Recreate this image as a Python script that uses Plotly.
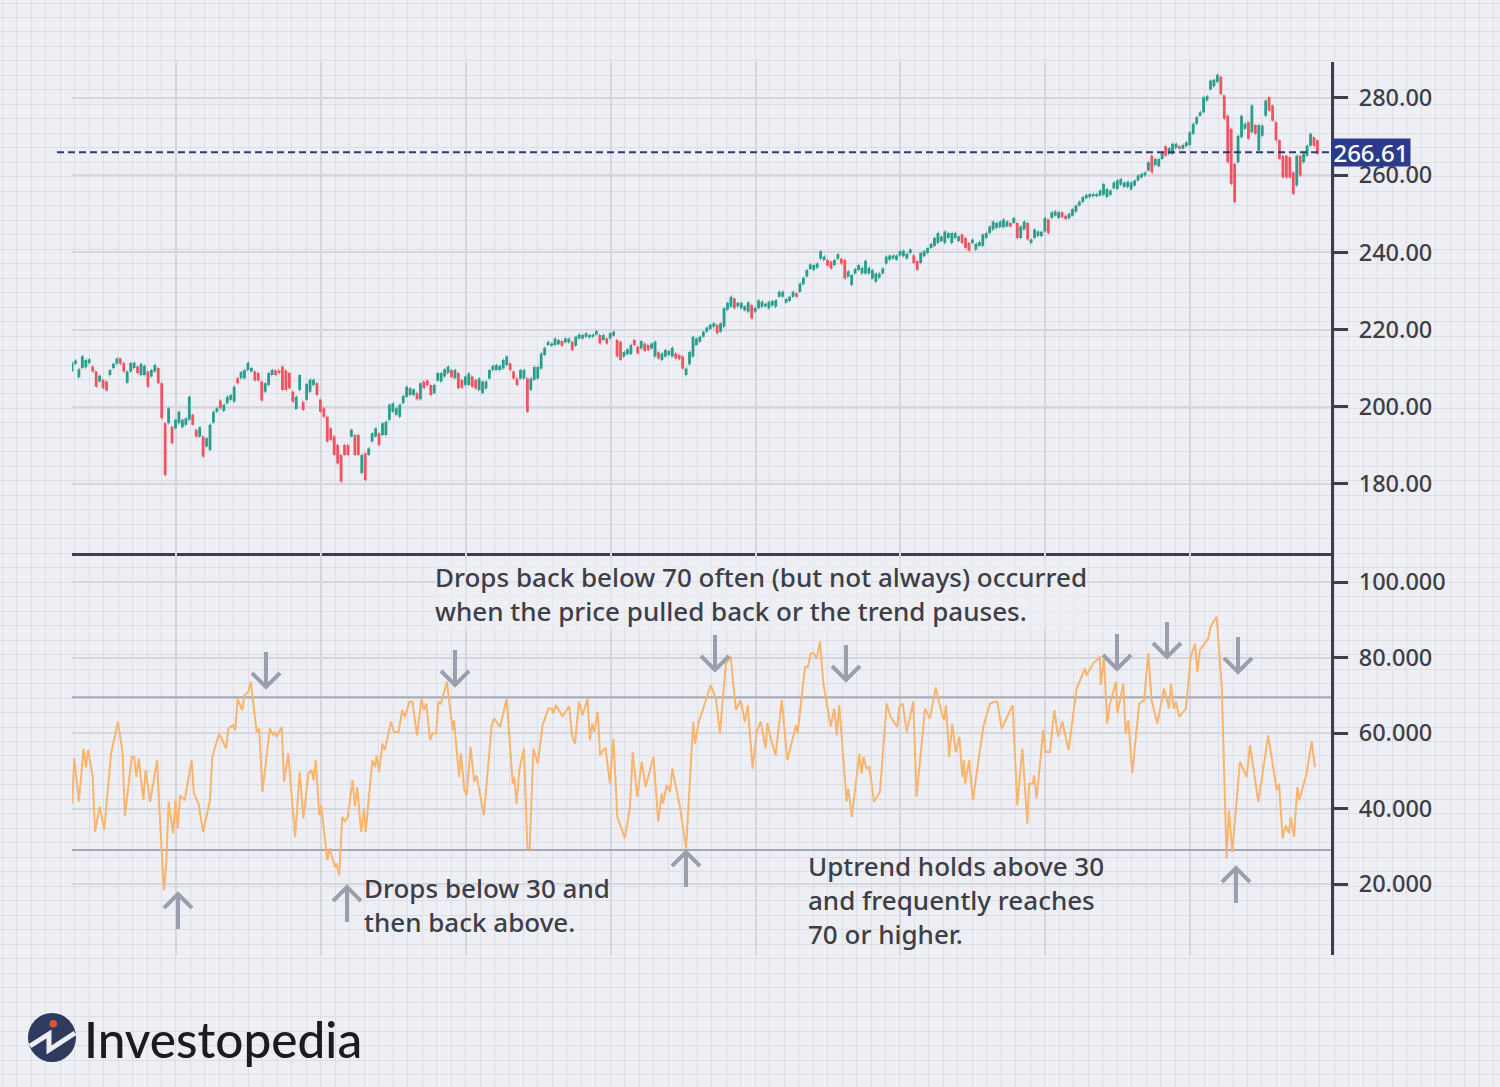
# S&P price bars with RSI panel underneath
import plotly.graph_objects as go

# Price bars
bar_high = [
    211.3,212,209.7,213.1,212.1,212.3,210.4,209.1,208,207,
    206.5,209.5,211.1,212.5,212.5,211.3,209.1,211.3,211.4,210.4,
    211.1,210.6,209.1,209.5,210.8,210,206.1,195.7,199.6,194.8,
    196.6,198.7,196.6,197,202.6,197.9,194,194.7,192.3,191.8,
    195.3,198.7,199.6,201.6,200.5,202.6,203,205.2,207.4,209,
    209.5,211.4,210,209.1,208.7,206.5,206.1,208.7,209.5,209.4,
    209.4,210.4,209.4,208.7,203.9,202.6,208.2,201.3,205.9,207,
    207,206.1,201.8,199.6,197.4,194.4,192.3,190.1,187.5,190.1,
    190.1,194,192.7,192.7,187.5,187.9,189.2,193.1,194.4,193.1,
    195.7,196.1,200.5,200.9,199.6,200.5,202.8,205.2,204.8,204.5,
    203.5,206.1,206.5,206.8,205.6,205.6,208.7,208.7,209.7,210.4,
    209.5,209.5,208.7,206.9,207.8,208.6,207.8,206.9,207.3,206.5,
    206.5,209.5,210.6,210.8,210.6,212.1,213,211.2,209.1,207.3,
    209.5,209.5,207.3,207.3,210.3,210.3,213.8,215.3,216.8,216.4,
    217.7,217.3,217,217.7,217.7,216.8,218.1,218.7,218.6,219,
    218.6,218.7,219.6,218.6,218.6,217.7,219,219.4,217.3,216.8,
    214.2,214.9,216,217.3,215.5,217,216.4,216,216.4,216.8,
    214.1,213.8,214.7,214.4,215.3,213.8,213.4,213,209.9,214.2,
    218.1,217.7,218.1,219.4,220.5,221.2,221.6,221.2,221.6,225.5,
    226.9,228.5,228,226.9,226.9,226,227,226.3,225.6,227.6,
    227.2,226.7,227.2,227.4,227.6,229.8,229.8,227.9,228.5,229.8,
    229.4,231.9,233.4,235.4,236.9,236.7,237.1,240.3,238.9,238,
    237.6,238,239.5,238.3,238,235.1,234.1,235.7,236.7,236,
    237.8,236,235.4,234.5,234.5,235.8,238.9,239.2,239.2,239.2,
    240.3,240.4,239.6,240.7,239.2,237.7,239.8,240.3,241.1,242.2,
    243.7,245,244.1,245.4,245,245,245,244.1,244.6,243.7,
    242.4,243.3,242.2,242.7,244.6,245,246.7,248,247.6,248,
    248.5,248,247.6,248.9,247.6,246.7,248,247.6,243.3,245.9,
    245.4,245.3,248.9,248.5,250.4,250.6,250.4,250.4,249.5,250,
    251.2,252.1,253.1,254.3,254.9,255.1,255.1,255.1,256,257.7,
    256.4,256,258.1,258.6,259,258.1,258.3,258.1,258.6,259.9,
    260.3,260.7,263.3,265,264.2,264.2,265.9,267.5,267,268.1,
    268.1,267.5,267.8,268.5,271.1,273.3,275,276.3,280.2,280.4,
    284.5,284.7,286,285.5,280.6,275.4,272,262.9,270.2,275.4,
    273.3,273.7,278,273,273,272.8,279.3,280.2,278,273.7,
    269,265,265,264.6,260.7,265,265,265.5,267.6,270.7,269.8,269,
]
bar_low = [
    209.1,211.1,207.6,210,210.2,211.3,209.1,205.2,206.5,204.8,
    204.2,208.2,210,211.1,211.1,209.1,206.2,209.1,210,208.7,
    208.2,208.2,205.2,207.8,209.1,206.1,197,182.3,195.7,190.5,
    194.4,195.7,194.7,195.3,196.6,195.3,192.3,192.3,187.1,189.7,
    188.8,195.9,198.7,199.6,198.9,200.9,201.8,201.3,206.1,207.4,
    207.4,209.5,209.1,206.8,206.8,201.6,203.9,205.6,208.2,208.2,
    208.7,204.3,204.3,204.8,201.3,199.4,204.3,199.2,201.8,203.9,
    205.6,203,198.7,197.4,191,191.4,187.5,185.3,180.6,187.5,
    187.5,192.3,187.5,187.5,182.8,181,187.5,191,192.3,190.1,
    192.7,192.7,196.6,198.7,197.9,197.4,200.9,202.6,203,203,
    201.9,201.9,204.8,205.6,203,203.5,206.8,206.5,207.8,208.7,
    207.6,207.4,204.8,204.9,205.6,205.6,205.2,204.7,204.3,203.5,
    204.7,207.3,209.5,209.5,209.5,209.9,210.8,209.5,207.3,205.6,
    207.3,207.3,198.7,204.3,207,207.3,209.9,213.4,216,215.8,
    216,216.2,215.8,216.7,216.7,214.7,215.8,217.7,217.7,218.1,
    217.9,218.1,218.7,216.4,217.3,216.4,217.7,218.4,213,212.1,
    213,213.6,213.6,216,213.8,215.1,214.4,214.7,215.1,213,
    212.5,212.1,213,213.4,213,212.5,212.3,209.9,208.2,211,
    213,216,216.8,218.1,219.4,220.1,220.7,219,219.4,220.7,
    225.1,225.9,225.5,226,225.5,225,224.6,222.9,224.6,225.5,
    225.9,226,225.5,226.2,225.9,228.5,228.5,227,227.4,228.5,
    228.5,229.8,231.7,233.7,235.7,235.4,236,238.3,238,236.5,
    235.8,236.7,238.3,237.1,233.2,233.7,231.5,234.5,235.4,234.5,
    234.5,234.5,233.2,232.4,233.4,234.5,237.1,238.1,238.4,238.1,
    239.2,239,238.4,239.8,237.2,235.5,237.2,239,239.8,241.1,
    241.6,242.4,242.9,242.4,243.7,242.4,243.7,242.9,242.4,241.1,
    240.4,242.4,240.7,241.6,241.6,243.7,245,245.9,246.3,246.5,
    246.5,246.7,246.7,247.6,243.7,243.7,245.9,243.3,242.4,243.7,
    244.2,244.2,245.4,245,248.9,249.5,248.9,249.1,248.6,248.8,
    249.5,250.5,252.1,253,254,254.3,254.5,254.5,254.7,254.9,
    254.3,254.9,256.6,256.4,257.5,256.9,256.9,256.3,257.3,258.6,
    259.4,259.9,261.2,260.7,262.6,262.3,264.2,265,265.5,265.5,
    267,266.8,266.8,267.5,267.8,270.7,273.3,275.4,276.3,279.3,
    282.2,283,284.1,281,274.6,263.3,257.7,253,263.3,269.8,
    272,269.4,271.1,270.7,266.4,270.2,275.4,276.7,274.1,269,
    264.2,259.4,259.4,259.4,255.1,257.3,259.9,263.3,265,267.6,267.6,265.5,
]
# Which bars are red
red_bars = [
    6,7,9,10,14,15,19,22,25,26,27,29,35,36,38,43,48,53,54,55,59,60,61,62,63,64,67,
    71,72,73,74,75,76,77,78,79,80,82,83,85,89,100,102,103,104,110,112,113,116,117,
    127,128,129,132,142,145,153,155,158,159,163,164,166,167,170,175,176,177,187,192,
    197,210,219,220,223,224,244,245,258,259,260,272,274,277,283,287,288,313,317,321,
    333,334,335,336,337,341,343,347,348,349,350,351,352,353,354,356,360,361,
]
last_price_label = "266.61"
last_price_level = 265.9  # where the dashed line sits on the scale in the picture

# RSI line, bar number and value
rsi_bar = [
    0,1,3,5,6,7,9,10,12,14,17,20,22,23,26,27,28,29,31,32,34,37,38,40,41,42,44,45,46,47,
    49,52,53,55,57,60,61,64,67,68,70,71,72,74,75,76.7,77.7,80.3,81.4,82.8,86,87.5,88.3,89,
    91.2,92.2,94,97,99,100.6,102.8,104.2,105,106,107.5,108.3,111,112,114.3,115,116.2,117.5,
    118.7,119.9,122,123,124,125.7,127,127.7,130.6,131.7,132.5,133.5,135,136,138.7,140,142,
    143.6,144.8,146.7,148,150,152,153,154,155.7,156.8,158.3,159.3,160.4,163,165.5,166.1,
    168.3,169.1,170.6,171.6,173.3,174.9,175.9,179.1,182.5,183.6,186.1,189,191.6,192.3,193.3,
    194.5,196.5,198,199,200.6,202.5,204.6,207.1,208.6,209.3,210.3,213.3,216.2,217.5,218.7,
    220.4,222,224.1,225.2,226.2,227.1,228.6,229.6,231,232,233.9,235.4,237.1,240.4,242.6,
    243.8,245.8,247.7,249.4,251.3,252.8,254.9,256.4,257,258.6,260,261,264.3,267,270.1,270.9,
    272.3,275.2,277.7,280,281.7,284.3,286.4,287.5,288.7,290.7,292.6,293.8,295.9,297.7,299.4,
    301.6,302.3,304.2,305.9,308.6,311,314.8,315.5,318.7,319.9,321.2,322.6,323.8,325.2,326.7,
    329.9,331.4,332.5,333.6,336.1,336.8,337.5,339.1,342.3,343.3,344.1,345.5,346.7,348.7,
    351.3,354.2,355.9,358.8,359.7,361.2,362.9,365.8,367.2,370.9,373,375.6,377.1,379.1,380,
    381.4,382.7,384.3,385.8,387.1,387.8,388.3,390.1,391.7,396.2,399.1,401.3,402.3,404.2,
    405.6,409,411,413.2,415.4,416.1,417.7,418.3,419.4,422.3,423.3,425.2,427.1,428.8,430.6,
    433.3,436.8,440.4,441.1,444,447,447.2,448.7,450.1,451.3,453.9,454.5,457.1,458.1,459.3,
    461,462.9,464,466.1,468,469.4,471.9,474.8,477,477.8,479.1,480,481.4,484.3,486.4,488.3,
    489.3,490.4,494,495,497.7,499.9,502,503,504.5,507.8,510.7,512.2,515.8,520.1,523.8,524.8,
    526.4,527.7,529.1,529.9,531.3,532.8,533.6,536.8,539,540.4,
]
rsi_value = [
    41.3,53.3,41.8,55.9,51,55.5,48.4,33.8,40.5,34.3,54.6,63,54.6,38,53.7,53.7,48.4,53.3,42.2,50.2,41.8,52.8,39.5,18.4,25.5,41.8,33.4,42.2,34.7,43.5,
    42.2,52.8,44,41.3,33.8,42.2,53.7,59.9,55.9,61.2,62.1,60.8,69.1,66.1,70,70.9,73.6,60.3,61.2,44.4,61.2,59.4,60.3,59,
    61.6,47.1,54.6,32.5,49.7,37.4,49.3,50.2,47.5,52.8,38.2,40.9,26.3,29.4,24.5,25.4,22.3,37.8,
    36.5,37.8,47.5,40.5,45.7,33.8,40,33.8,52.8,51,54.1,49.7,57.2,55.5,63,60.3,60.3,
    66.1,64.3,68.3,68.3,59.4,69.1,66.1,67.8,58.1,59.9,59.9,68.3,67.8,73.6,60.8,63.4,
    48.4,54.6,44.9,43.5,56.3,47.1,48.8,38.2,62.1,63.9,61.6,69.1,46.6,48.4,41.3,
    50.2,55.9,29.4,29.4,55.9,51.9,62.1,66.5,66.5,65.2,67.4,64.5,67.1,59,57.2,
    68.3,64.7,69.1,58.1,62.5,60.3,65.6,54.1,55.5,55.9,46.6,58.5,37.8,32.1,40.5,
    55,43.1,52.4,45.7,50.2,53.7,36.5,44,41.3,46.2,44.4,50.6,40.5,29.4,63,57.2,
    62.5,67.8,72.7,69.1,59.9,78.4,80.2,73.1,66.1,68.7,63,67.4,50.6,60.3,63,
    55.9,62.7,57.7,54.1,68.7,52.8,62.1,59.9,77.5,77.5,81.1,81.1,79.7,84.2,73.1,
    61.8,66.5,59.4,67.4,46.6,41.8,45.3,37.8,54.5,49.3,53.7,50.6,51,41.8,
    44.4,67.8,64.3,61.6,66.9,67.8,60.3,68.3,43.1,66.5,63.9,72.1,67.8,63.4,67.4,
    53.7,62.5,55,59,48.4,52.8,46.6,52.8,42.2,61.6,67.8,68.3,68.3,61.2,
    63,67.4,40.9,55.9,36,46.6,46.6,48.8,42.7,60.8,55,55,66.1,59,63,
    55.5,71.8,77.1,75.3,78.4,80.2,72.7,79.7,62.5,67.8,73.5,65.2,73.1,59.9,63.4,
    49.3,59.9,67.8,68.7,81.1,68.7,62.5,71.8,66.5,73.1,66.5,68.3,64.3,66.5,80.2,83.7,
    76.2,82,85,88.1,90.8,72.2,26.8,39.5,28.5,52.4,48.4,56.8,41.8,59.4,44.9,46.6,
    32.1,35.6,33.4,37.8,32.5,45.7,42.2,49.3,57.7,51,
]
rsi_levels = [69.5, 29]

# Axis labels
price_ticks = [180, 200, 220, 240, 260, 280]
rsi_ticks = [20, 40, 60, 80, 100]

# Notes on the RSI panel
note_text = [
    "Drops back below 70 often (but not always) occurred<br>when the price pulled back or the trend pauses.",
    "Drops below 30 and<br>then back above.",
    "Uptrend holds above 30<br>and frequently reaches<br>70 or higher.",
]
note_x = [434, 363, 807]
note_y = [594, 905, 900]
note_patch = ["rgba(238,239,244,0.55)", "rgba(0,0,0,0)", "rgba(0,0,0,0)"]

# Arrows on the RSI panel, tip positions in page pixels
down_tip_x = [266, 455, 715, 846, 1117, 1167, 1238]
down_tip_y = [687, 685, 670, 680, 669, 657, 672]
up_tip_x = [178, 347, 686, 1236]
up_tip_y = [894, 887, 852, 868]

PAGE = "#EEEFF4"
INK = "#3D3E47"
TEXT_FONT = "Noto Sans"
TICK_FONT = "Noto Sans"
GRID = "#D6D7DD"

bar_x = [k * 1.5 for k in range(len(bar_high))]
red_set = set(red_bars)
bar_open = [bar_high[k] if k in red_set else bar_low[k] for k in range(len(bar_high))]
bar_close = [bar_low[k] if k in red_set else bar_high[k] for k in range(len(bar_high))]

fig = go.Figure()

fig.add_trace(go.Ohlc(
    x=bar_x, open=bar_open, high=bar_high, low=bar_low, close=bar_close,
    xaxis="x2", yaxis="y2", tickwidth=0.2,
    increasing=dict(line=dict(color="#2A9D8C", width=2.8)),
    decreasing=dict(line=dict(color="#EE5560", width=2.8)),
))

for level in rsi_levels:
    fig.add_trace(go.Scatter(
        x=[0, 547.4], y=[level, level], xaxis="x3", yaxis="y3", mode="lines",
        line=dict(color="#A8AAB3", width=2),
    ))

fig.add_trace(go.Scatter(
    x=rsi_bar, y=rsi_value, xaxis="x3", yaxis="y3", mode="lines",
    line=dict(color="#F9B46E", width=2),
))

# arrows, logo and last price line sit in page pixels on the backdrop axes
shapes = []
for x, y in zip(down_tip_x, down_tip_y):
    shapes.append(dict(type="path", xref="x", yref="y", line=dict(color="#9B9EAC", width=4),
                       path=f"M{x},{y-35} L{x},{y} M{x-14},{y-14} L{x},{y} L{x+14},{y-14}"))
for x, y in zip(up_tip_x, up_tip_y):
    shapes.append(dict(type="path", xref="x", yref="y", line=dict(color="#9B9EAC", width=4),
                       path=f"M{x},{y+35} L{x},{y} M{x-14},{y+14} L{x},{y} L{x+14},{y+14}"))
shapes.append(dict(type="line", xref="x", yref="y2", x0=57, x1=1331,
                   y0=last_price_level, y1=last_price_level,
                   line=dict(color="#2C3A7C", width=2, dash="7px,4px")))
shapes.append(dict(type="circle", xref="x", yref="y", x0=28, x1=76, y0=1013, y1=1062,
                   fillcolor="#2F3B5E", line=dict(width=0)))
shapes.append(dict(type="path", xref="x", yref="y", path="M30,1046 L49,1034 L49,1050 L75,1033",
                   line=dict(color=PAGE, width=5)))
shapes.append(dict(type="circle", xref="x", yref="y", x0=49.5, x1=57, y0=1020, y1=1027.5,
                   fillcolor="#E8502F", line=dict(width=0)))

annotations = []
for text, x, y, patch in zip(note_text, note_x, note_y, note_patch):
    annotations.append(dict(x=x, y=y, text=text, xref="x", yref="y", xanchor="left",
                            yanchor="middle", align="left", showarrow=False, borderpad=0,
                            bgcolor=patch,
                            font=dict(family=TEXT_FONT, size=26, color=INK, weight=500)))
annotations.append(dict(x=1371, y=last_price_level, xref="x", yref="y2", text=last_price_label,
                        showarrow=False, bgcolor="#2B3A8C", width=78, height=27, borderpad=0,
                        font=dict(family=TICK_FONT, size=24, color="white", weight=500)))
annotations.append(dict(x=82, y=1039, xref="x", yref="y", text="Investopedia", xanchor="left",
                        yanchor="middle", showarrow=False,
                        font=dict(family="Lato", size=49.5, color="#1B1B20", weight=500)))

tick_font = dict(family=TICK_FONT, size=23.5, color=INK, weight=500)
fig.update_layout(
    width=1500, height=1087, margin=dict(l=0, r=0, t=0, b=0), autosize=False,
    showlegend=False, paper_bgcolor=PAGE, plot_bgcolor="rgba(0,0,0,0)",
    # backdrop graph paper over the whole page, one unit = one pixel
    xaxis=dict(domain=[0, 1], range=[0, 1500], tick0=2.2, dtick=14.48, showgrid=True,
               gridcolor="#DDDEE6", gridwidth=1, zeroline=False, showticklabels=False, ticks=""),
    yaxis=dict(domain=[0, 1], range=[1087, 0], tick0=3, dtick=14.48, showgrid=True,
               gridcolor="#DDDEE6", gridwidth=1, zeroline=False, showticklabels=False, ticks=""),
    xaxis2=dict(domain=[0.048, 0.88733], range=[0, 547.4], anchor="y2", tick0=45.2, dtick=63,
                showgrid=True, gridcolor=GRID, gridwidth=2, showticklabels=False, ticks="",
                showline=True, linecolor=INK, linewidth=3, zeroline=False,
                rangeslider=dict(visible=False)),
    yaxis2=dict(domain=[0.49126, 0.94296], range=[162.1, 289.3], anchor="x2", side="right",
                tickvals=price_ticks, tickformat=".2f", tickfont=tick_font, ticks="outside",
                ticklen=14, tickwidth=3, tickcolor=INK, ticklabelstandoff=6,
                showline=True, linecolor=INK, linewidth=3,
                showgrid=True, gridcolor=GRID, gridwidth=2, zeroline=False),
    xaxis3=dict(domain=[0.048, 0.88733], range=[0, 547.4], anchor="y3", tick0=45.2, dtick=63,
                showgrid=True, gridcolor=GRID, gridwidth=2, showticklabels=False, ticks="",
                zeroline=False),
    yaxis3=dict(domain=[0.12144, 0.49126], range=[1.2, 107.7], anchor="x3", side="right",
                tickvals=rsi_ticks, tickformat=".3f", tickfont=tick_font, ticks="outside",
                ticklen=14, tickwidth=3, tickcolor=INK, ticklabelstandoff=6,
                showline=True, linecolor=INK, linewidth=3,
                showgrid=True, gridcolor=GRID, gridwidth=2, zeroline=False),
    shapes=shapes, annotations=annotations,
)

fig.write_html("out.html", config=dict(displayModeBar=False),
               post_script="document.body.style.margin='0';")
